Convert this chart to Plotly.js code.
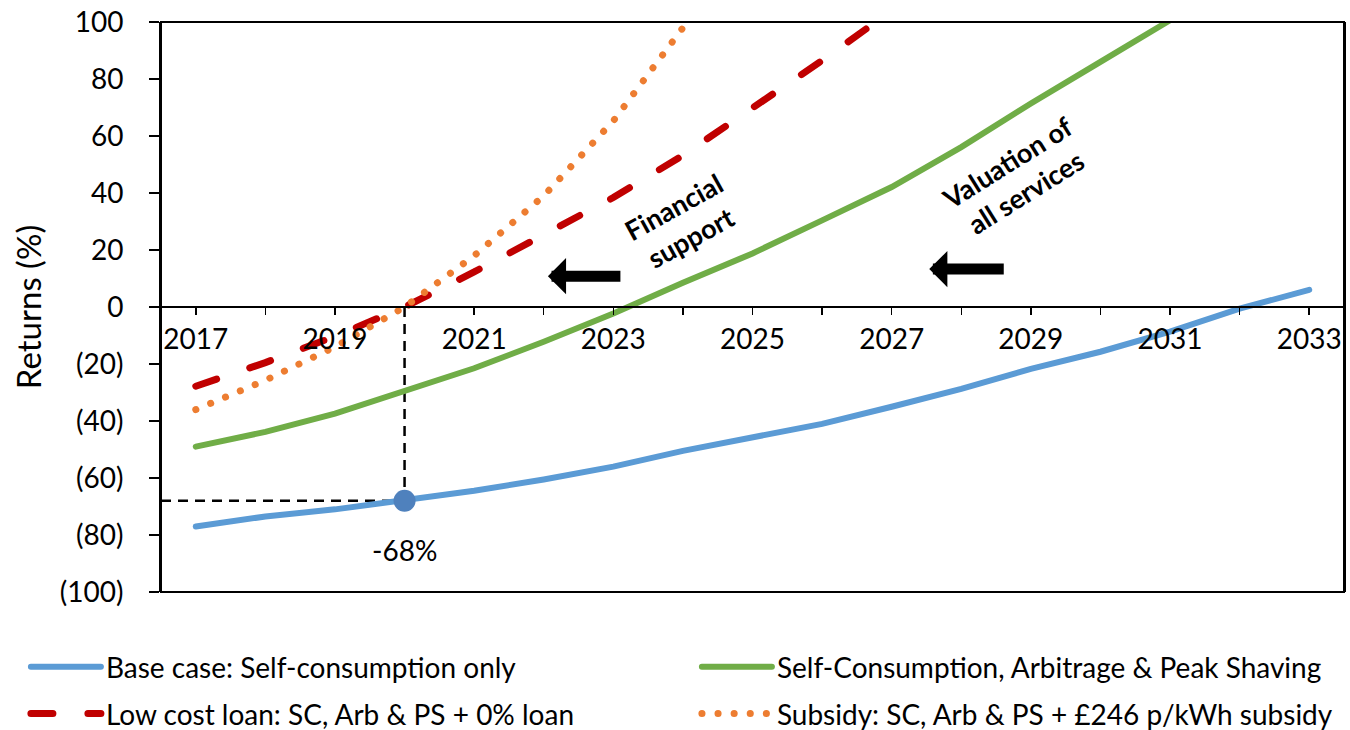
<!DOCTYPE html>
<html><head><meta charset="utf-8">
<script src="https://cdn.plot.ly/plotly-3.0.1.min.js"></script>
<style>
html,body{margin:0;padding:0;background:#fff;}
#chart{width:1350px;height:730px;}
.scatterlayer .js-line, .legend .js-line, .legend2 .js-line {stroke-linecap: round;}
</style></head><body><div id="chart"></div>
<script>
const years = [2017,2018,2019,2020,2021,2022,2023,2024,2025,2026,2027,2028,2029,2030,2031,2032,2033];
const baseCase = [-77,-73.5,-71,-68,-64.5,-60.5,-56,-50.5,-45.5,-41,-35,-28.7,-21.7,-15.7,-8.6,-0.6,6];
const allServices = [-49,-43.8,-37.4,-29.2,-21.5,-12.2,-2.3,8.5,18.8,30.4,42.1,56.1,71.4,86,100.6];
const lowCostLoan = [-27.8,-19.5,-10.3,0,12.3,25.2,38.4,53.2,69.5,86.5,104];
const subsidy = [-36,-25.7,-14,0,18,39,65.3,98];
const seriesNames = ['Base case: Self-consumption only','Self-Consumption, Arbitrage & Peak Shaving','Low cost loan: SC, Arb & PS + 0% loan','Subsidy: SC, Arb & PS + £246 p/kWh subsidy'];
const yTickVals = [100,80,60,40,20,0,-20,-40,-60,-80,-100];
const yTickText = ['100','80','60','40','20','0','(20)','(40)','(60)','(80)','(100)'];
const xTickText = years.map((y,i)=> i%2===0 ? String(y) : '');
const highlightIdx = 3;
const highlightLabel = '-68%';

const FONT = 'Lato, "Noto Sans", sans-serif';
const xRange = [2016.5, 2033.5];

const traces = [
  {x: years.slice(0, baseCase.length), y: baseCase, name: seriesNames[0], mode:'lines', legend:'legend',
   line:{color:'#5B9BD5', width:6}},
  {x: years.slice(0, allServices.length), y: allServices, name: seriesNames[1], mode:'lines', legend:'legend',
   line:{color:'#70AD47', width:6}},
  {x: years.slice(0, lowCostLoan.length), y: lowCostLoan, name: seriesNames[2], mode:'lines', legend:'legend2',
   line:{color:'#C00000', width:7, dash:'22px,35px'}},
  {x: years.slice(0, subsidy.length), y: subsidy, name: seriesNames[3], mode:'lines', legend:'legend2',
   line:{color:'#ED7D31', width:7, dash:'0.1px,16px'}},
  {x: [years[highlightIdx]], y: [baseCase[highlightIdx]], mode:'markers', showlegend:false,
   marker:{color:'#4F81BD', size:22}, hoverinfo:'skip'}
];

const legendCommon = {orientation:'h', xanchor:'left', yanchor:'top', font:{family:FONT, size:28, color:'#000'},
    entrywidth:586, entrywidthmode:'pixels', itemwidth:70, bgcolor:'rgba(0,0,0,0)', borderwidth:0};

const layout = {
  width:1350, height:730,
  margin:{l:161, r:6, t:22, b:138, autoexpand:false},
  paper_bgcolor:'#fff', plot_bgcolor:'#fff',
  font:{family:FONT, color:'#000'},
  showlegend:true,
  xaxis:{range:xRange, tickvals:years, ticktext:xTickText, anchor:'free', position:0.5,
    showline:true, linecolor:'#000', linewidth:2, ticks:'outside', ticklen:7, tickwidth:1.5, tickcolor:'#000',
    showgrid:false, zeroline:false, tickfont:{family:FONT, size:28, color:'#000'}, ticklabelstandoff:0, fixedrange:true},
  yaxis:{range:[-100,100], tickvals:yTickVals, ticktext:yTickText, showline:true, mirror:true, linecolor:'#000', linewidth:2,
    ticks:'outside', ticklen:10, tickwidth:1.5, tickcolor:'#000', showgrid:false, zeroline:false,
    tickfont:{family:FONT, size:28, color:'#000'}, ticklabelstandoff:20,
    title:{text:'Returns (%)', font:{family:FONT, size:33, color:'#000'}, standoff:8}, fixedrange:true},
  legend:Object.assign({}, legendCommon, {x:-0.1142, y:-0.088}),
  legend2:Object.assign({}, legendCommon, {x:-0.1142, y:-0.17}),
  shapes:[
    {type:'rect', xref:'paper', yref:'paper', x0:0, x1:1, y0:0, y1:1, line:{color:'#000', width:2}, layer:'above'},
    {type:'line', xref:'x', yref:'y', x0:years[highlightIdx], x1:years[highlightIdx], y0:0, y1:baseCase[highlightIdx],
      line:{color:'#000', width:2.5, dash:'10px,7px'}, layer:'below'},
    {type:'line', xref:'x', yref:'y', x0:xRange[0], x1:years[highlightIdx], y0:baseCase[highlightIdx], y1:baseCase[highlightIdx],
      line:{color:'#000', width:2.5, dash:'10px,7px'}, layer:'below'}
  ],
  annotations:[
    {x:years[highlightIdx], y:baseCase[highlightIdx], xref:'x', yref:'y', text:highlightLabel, showarrow:false,
      yshift:-49, font:{family:FONT, size:28, color:'#000'}},
    {x:2023.99, y:29.7, xref:'x', yref:'y', text:'<b>Financial<br>support</b>', showarrow:false, textangle:-29,
      font:{family:FONT, size:27, color:'#000'}},
    {x:2028.8, y:45.5, xref:'x', yref:'y', text:'<b>Valuation of<br>all services</b>', showarrow:false, textangle:-32,
      font:{family:FONT, size:27, color:'#000'}},
    {x:2022.06, y:10.8, xref:'x', yref:'y', text:'', showarrow:true, ax:74, ay:0, arrowhead:1, arrowwidth:11, arrowsize:0.55, arrowcolor:'#000'},
    {x:2027.54, y:13.3, xref:'x', yref:'y', text:'', showarrow:true, ax:76, ay:0, arrowhead:1, arrowwidth:11, arrowsize:0.55, arrowcolor:'#000'}
  ]
};

Plotly.newPlot('chart', traces, layout, {displayModeBar:false, staticPlot:true});
</script></body></html>
